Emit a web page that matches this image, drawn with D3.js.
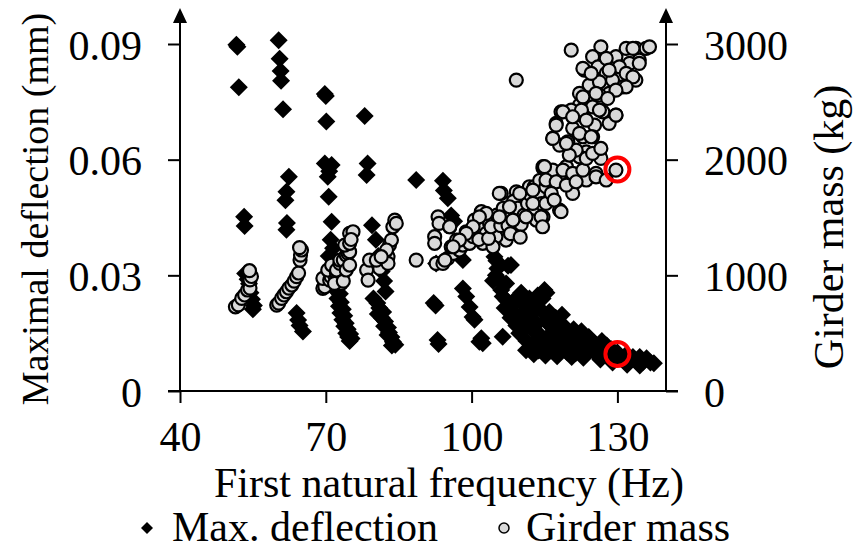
<!DOCTYPE html>
<html>
<head>
<meta charset="utf-8">
<script src="https://cdn.jsdelivr.net/npm/d3@7"></script>
<style>
  body { margin: 0; background: #fff; }
  text { font-family: "Liberation Serif", "Times New Roman", serif; fill: #000; }
</style>
</head>
<body>
<div id="chart"></div>
<script>
// [frequency Hz, max deflection mm]
const deflection = [
  [51.6,0.0898],[51.8,0.0893],[52.1,0.0788],
  [53.2,0.0452],[53.3,0.0428],
  [53.4,0.0305],[53.9,0.0290],[54.2,0.0278],[54.5,0.0255],[54.8,0.0238],[55.2,0.0222],[55.0,0.0212],
  [60.3,0.0910],[60.5,0.0862],[60.7,0.0830],[60.8,0.0805],[61.2,0.0731],
  [62.4,0.0556],[61.9,0.0517],[61.7,0.0495],[62.0,0.0436],[61.9,0.0418],
  [64.0,0.0202],[64.3,0.0184],[64.6,0.0170],[65.3,0.0154],
  [69.8,0.0770],[70.0,0.0765],[70.1,0.0699],
  [69.8,0.0590],[71.2,0.0586],[70.7,0.0570],[70.4,0.0556],[70.6,0.0504],[71.2,0.0439],
  [71.0,0.0392],[71.5,0.0370],[70.6,0.0350],[72.0,0.0335],[71.3,0.0315],[72.2,0.0300],[71.6,0.0285],
  [72.5,0.0272],[72.0,0.0262],[72.9,0.0252],[72.4,0.0240],[73.1,0.0230],[72.7,0.0220],[73.5,0.0212],
  [73.0,0.0202],[73.8,0.0195],[73.4,0.0185],[74.1,0.0176],[73.8,0.0168],[74.5,0.0160],[74.2,0.0150],
  [75.0,0.0148],[74.6,0.0140],[75.3,0.0136],[74.9,0.0130],
  [78.0,0.0713],[78.6,0.0590],[78.4,0.0560],[79.5,0.0430],[80.3,0.0392],[80.8,0.0350],[81.5,0.0310],
  [82.0,0.0285],[82.3,0.0258],
  [79.8,0.0240],[80.6,0.0228],[81.0,0.0215],[80.7,0.0200],[81.8,0.0205],[81.5,0.0190],[82.2,0.0180],
  [82.0,0.0168],[82.8,0.0165],[83.0,0.0152],[82.7,0.0145],[83.5,0.0140],[83.8,0.0128],[84.3,0.0120],[83.6,0.0118],
  [88.6,0.0547],
  [94.1,0.0545],[94.3,0.0520],[95.1,0.0500],[95.8,0.0455],[96.4,0.0440],[97.5,0.0366],[98.2,0.0340],[92.7,0.0331],
  [92.2,0.0228],[92.6,0.0222],[93.0,0.0132],[93.2,0.0122],
  [98.2,0.0266],[98.9,0.0245],[99.6,0.0218],[100.2,0.0192],[100.6,0.0185],[102.0,0.0137],[101.6,0.0128],
  [104.7,0.0348],[105.1,0.0338],[105.3,0.0318],[105.0,0.0300],[104.4,0.0286],[105.7,0.0288],[107.1,0.0279],
  [107.5,0.0325],[108.1,0.0327],[106.1,0.0262],[106.4,0.0245],[107.2,0.0235],[106.8,0.0215],[108.5,0.0232],
  [115.0,0.0262],[115.4,0.0255],[106.4,0.0141],[102.3,0.0124],[111.2,0.0106],
  [108.0,0.0190],[108.3,0.0225],[108.6,0.0205],
  [109.2,0.0170],[109.5,0.0235],[109.8,0.0150],[110.2,0.0195],[110.4,0.0250],[110.8,0.0165],
  [111.0,0.0220],[111.3,0.0130],[111.6,0.0180],[111.9,0.0240],[112.2,0.0115],[112.4,0.0160],[112.7,0.0205],
  [113.0,0.0125],[113.2,0.0230],[113.5,0.0175],[113.8,0.0105],[114.1,0.0145],[114.3,0.0210],[114.6,0.0240],
  [115.0,0.0115],[115.3,0.0180],[115.6,0.0140],[116.0,0.0205],[116.3,0.0105],[116.6,0.0165],
  [117.0,0.0125],[117.3,0.0190],[117.7,0.0150],[118.0,0.0105],[118.4,0.0175],
  [119.0,0.0135],[119.3,0.0165],[119.7,0.0100],[120.2,0.0150],[120.5,0.0120],
  [121.0,0.0160],[121.4,0.0098],[121.8,0.0135],[122.3,0.0110],[122.6,0.0155],
  [123.2,0.0120],[123.7,0.0098],[124.1,0.0140],[124.6,0.0108],
  [125.2,0.0125],[125.7,0.0095],[126.2,0.0115],[126.8,0.0130],
  [127.3,0.0100],[127.8,0.0118],[128.3,0.0090],
  [128.8,0.0108],[129.4,0.0082],[130.0,0.0100],
  [130.6,0.0090],[131.3,0.0080],[131.9,0.0095],[132.6,0.0078],[133.2,0.0088],
  [133.9,0.0078],[134.6,0.0088],[135.3,0.0076],[136.0,0.0085],[136.8,0.0074],[137.5,0.0072],
  [112.8,0.0095],[115.2,0.0092],[117.6,0.0090],[120.6,0.0088],[123.0,0.0086],[126.5,0.0082],
  [129.0,0.0074],[132.0,0.0068],[134.6,0.0066],[118.6,0.0198],[110.2,0.0255],[113.6,0.0248]
];

// [frequency Hz, girder mass kg]
const girderMass = [
  [51.4,728],[52.0,745],[52.7,800],[53.3,830],[53.9,873],[54.4,890],[54.4,960],[54.7,990],[54.3,1040],
  [59.9,743],[60.3,760],[60.9,801],[61.4,830],[61.9,858],[62.4,890],[63.0,916],[63.5,950],[64.0,988],
  [64.4,1020],[64.7,1132],[64.8,1175],[65.0,1219],[64.6,1240],
  [69.4,888],[69.8,901],[69.4,974],[70.8,959],[71.1,988],[71.8,1003],[70.4,1046],[71.2,1089],[72.2,1017],
  [72.2,1046],[72.9,1103],[72.9,1132],[73.6,1132],[74.2,1175],[74.6,1189],[74.9,1204],[73.9,1262],
  [74.9,1277],[74.9,1363],[75.6,1377],[73.2,930],[71.8,930],[73.6,950],[74.2,1046],[74.9,1089],[75.2,1310],
  [78.4,1046],[78.7,959],[79.0,1132],[81.1,1060],[80.4,1132],[82.8,1161],[83.1,1262],[83.5,1305],
  [83.8,1420],[84.2,1478],[84.5,1449],[82.8,1103],[82.5,1219],[81.4,1161],
  [88.6,1132],
  [92.4,1334],[92.4,1277],[93.1,1506],[93.3,1449],[95.5,1420],[92.7,1103],[94.1,1103],[95.1,1146],
  [96.2,1189],[97.5,1219],[95.8,1247],[96.9,1305],[94.5,1132],
  [98.2,1262],[99.6,1277],[100.3,1334],[101.0,1392],[102.0,1420],[103.0,1363],[102.3,1277],[103.7,1449],
  [104.7,1392],[105.7,1464],[107.1,1506],[107.1,1305],[107.8,1579],[109.2,1392],[109.9,1493],[110.5,1680],
  [111.2,1564],[111.9,1766],[112.9,1766],[112.6,1651],[113.3,1478],[114.7,1925],[106.1,1708],[109.2,1722],
  [102.0,1550],[100.6,1478],[98.9,1377],[105.0,1334],[104.4,1247],
  [101.5,1310],[103.5,1320],[104.0,1420],[105.2,1520],[106.0,1430],[106.5,1580],[107.5,1430],[108.3,1520],
  [108.6,1640],[109.5,1580],[110.2,1440],[110.8,1520],[111.5,1620],[112.0,1700],[113.0,1580],[113.7,1700],
  [114.0,1820],[114.4,1620],[108.0,1360],[110.0,1330],
  [103.0,1536],[101.6,1506],[100.3,1420],[98.9,1363],[97.5,1305],[96.2,1247],[95.5,1420],
  [105.7,1708],[107.8,1593],[112.6,1622],[115.3,1622],[118.1,1564],[114.7,1506],[111.2,1506],[108.5,1478],
  [105.7,1506],[109.9,1708],[112.6,1737],[115.3,1766],[118.1,1824],[120.8,1824],[123.6,1824],[125.6,1881],
  [126.3,2054],[123.6,2068],[122.2,2025],[119.5,1939],[116.7,1910],[114.7,1939],
  [115.0,1939],[115.3,1824],[117.4,1809],[116.4,1708],[118.4,1550],[114.3,1506],[117.0,1651],[114.6,1420],
  [120.8,1708],[119.5,1780],[118.8,1910],[120.8,1881],[121.5,1809],[122.9,1910],[125.6,1852],
  [127.7,1824],[129.7,1910],[126.6,2011],[123.6,2011],[124.9,2054],[126.6,2097],
  [120.5,2947],[126.6,2976],[124.9,2890],[126.0,2803],[123.2,2774],[125.6,2688],[127.7,2746],[129.7,2890],
  [131.8,2962],[133.8,2962],[135.9,2962],[136.6,2976],[134.5,2861],[132.5,2833],[130.4,2803],[131.8,2746],
  [133.8,2688],[131.1,2630],[129.0,2688],[128.3,2573],[126.3,2558],[124.2,2645],[123.6,2515],[122.2,2573],
  [122.2,2472],[124.9,2457],[127.0,2414],[129.7,2385],[128.3,2314],[125.3,2299],[122.5,2385],[120.5,2429],
  [118.4,2414],[117.4,2314],[120.8,2271],[122.9,2198],[124.9,2198],[116.7,2184],[119.8,2155],[118.1,2126],
  [121.5,2083],[120.1,2040],
  [127.7,2876],[133.2,2962],[134.5,2833],[133.2,2716],[131.8,2630],[129.7,2601],[126.3,2673],[128.3,2774],
  [122.9,2789],[124.6,2746],[125.6,2573],[122.9,2543],[128.0,2529],[129.7,2385],[126.3,2429],[122.6,2429],
  [118.8,2414],[117.4,2299],[116.7,2184],[119.5,2141],[122.2,2227],[124.6,2198],[120.8,2371],[123.6,2342],
  [109.2,2688]
];

// highlighted design (red rings)
const selDeflection = [[130, 0.0096]];
const selMass = [[130, 1915]];

const xTicks = [40, 70, 100, 130];
const yLeftTicks = [0, 0.03, 0.06, 0.09];
const yRightTicks = [0, 1000, 2000, 3000];

const width = 853, height = 550;
const plotLeft = 180, plotRight = 666, plotBottom = 391, plotTop = 44, arrowTip = 8;

const svg = d3.select("#chart").append("svg")
    .attr("width", width)
    .attr("height", height);

svg.append("rect").attr("width", width).attr("height", height).attr("fill", "#fff");

const x = d3.scaleLinear().domain([40, 140]).range([plotLeft, plotRight]);
const yL = d3.scaleLinear().domain([0, 0.09]).range([plotBottom, plotTop]);
const yR = d3.scaleLinear().domain([0, 3000]).range([plotBottom, plotTop]);

const fs = 42;

// axes
const gx = svg.append("g").attr("transform", `translate(0,${plotBottom})`)
    .call(d3.axisBottom(x).tickValues(xTicks).tickSize(12).tickSizeOuter(0).tickPadding(18));
const gl = svg.append("g").attr("transform", `translate(${plotLeft},0)`)
    .call(d3.axisLeft(yL).tickValues(yLeftTicks).tickSize(12).tickSizeOuter(0).tickPadding(26)
      .tickFormat(d => d === 0 ? "0" : d3.format(".2f")(d)));
const gr = svg.append("g").attr("transform", `translate(${plotRight},0)`)
    .call(d3.axisRight(yR).tickValues(yRightTicks).tickSize(12).tickSizeOuter(0).tickPadding(26)
      .tickFormat(d3.format("d")));

[gx, gl, gr].forEach(g => {
  g.select(".domain").remove();
  g.selectAll(".tick line").attr("stroke", "#000").attr("stroke-width", 2);
  g.selectAll(".tick text").style("font-size", fs + "px").attr("font-family", null);
});
gl.selectAll(".tick text").attr("dy", "0.36em");
gr.selectAll(".tick text").attr("dy", "0.36em");

// axis lines with arrows
svg.append("line").attr("x1", plotLeft - 12).attr("x2", plotRight + 12).attr("y1", plotBottom).attr("y2", plotBottom)
    .attr("stroke", "#000").attr("stroke-width", 2);
[plotLeft, plotRight].forEach(ax => {
  svg.append("line").attr("x1", ax).attr("x2", ax).attr("y1", plotBottom).attr("y2", arrowTip + 10)
      .attr("stroke", "#000").attr("stroke-width", 2);
  svg.append("path")
      .attr("d", `M${ax},${arrowTip}L${ax + 7},${arrowTip + 15}L${ax - 7},${arrowTip + 15}Z`)
      .attr("fill", "#000");
});

// markers
const diamond = "M0,-9L9,0L0,9L-9,0Z";

svg.append("g").selectAll("path")
    .data(deflection)
    .enter()
    .append("path")
    .attr("d", diamond)
    .attr("transform", d => `translate(${x(d[0])},${yL(d[1])})`)
    .attr("fill", "#000");

svg.append("g").selectAll("circle")
    .data(girderMass)
    .enter()
    .append("circle")
    .attr("cx", d => x(d[0]))
    .attr("cy", d => yR(d[1]))
    .attr("r", 6.5)
    .attr("fill", "#d9d9d9")
    .attr("stroke", "#000")
    .attr("stroke-width", 2.2);

svg.append("g").selectAll("circle")
    .data(selDeflection.map(d => [x(d[0]), yL(d[1])]).concat(selMass.map(d => [x(d[0]), yR(d[1])])))
    .enter()
    .append("circle")
    .attr("cx", d => d[0])
    .attr("cy", d => d[1])
    .attr("r", 12)
    .attr("fill", "none")
    .attr("stroke", "#ff0000")
    .attr("stroke-width", 4);

// titles
svg.append("text")
    .attr("transform", `translate(48,209) rotate(-90)`)
    .attr("text-anchor", "middle")
    .style("font-size", "38px")
    .text("Maximal deflection (mm)");

svg.append("text")
    .attr("transform", `translate(843,227) rotate(-90)`)
    .attr("text-anchor", "middle")
    .style("font-size", fs + "px")
    .text("Girder mass (kg)");

svg.append("text")
    .attr("x", 449).attr("y", 497)
    .attr("text-anchor", "middle")
    .style("font-size", fs + "px")
    .text("First natural frequency (Hz)");

// legend
const ly = 528;
svg.append("path").attr("d", "M0,-6L6,0L0,6L-6,0Z").attr("transform", `translate(147,${ly})`).attr("fill", "#000");
svg.append("text").attr("x", 172).attr("y", ly + 13).style("font-size", fs + "px").text("Max. deflection");
svg.append("circle").attr("cx", 504).attr("cy", ly).attr("r", 5)
    .attr("fill", "#d9d9d9").attr("stroke", "#000").attr("stroke-width", 1.5);
svg.append("text").attr("x", 526).attr("y", ly + 13).style("font-size", fs + "px").text("Girder mass");
</script>
</body>
</html>
